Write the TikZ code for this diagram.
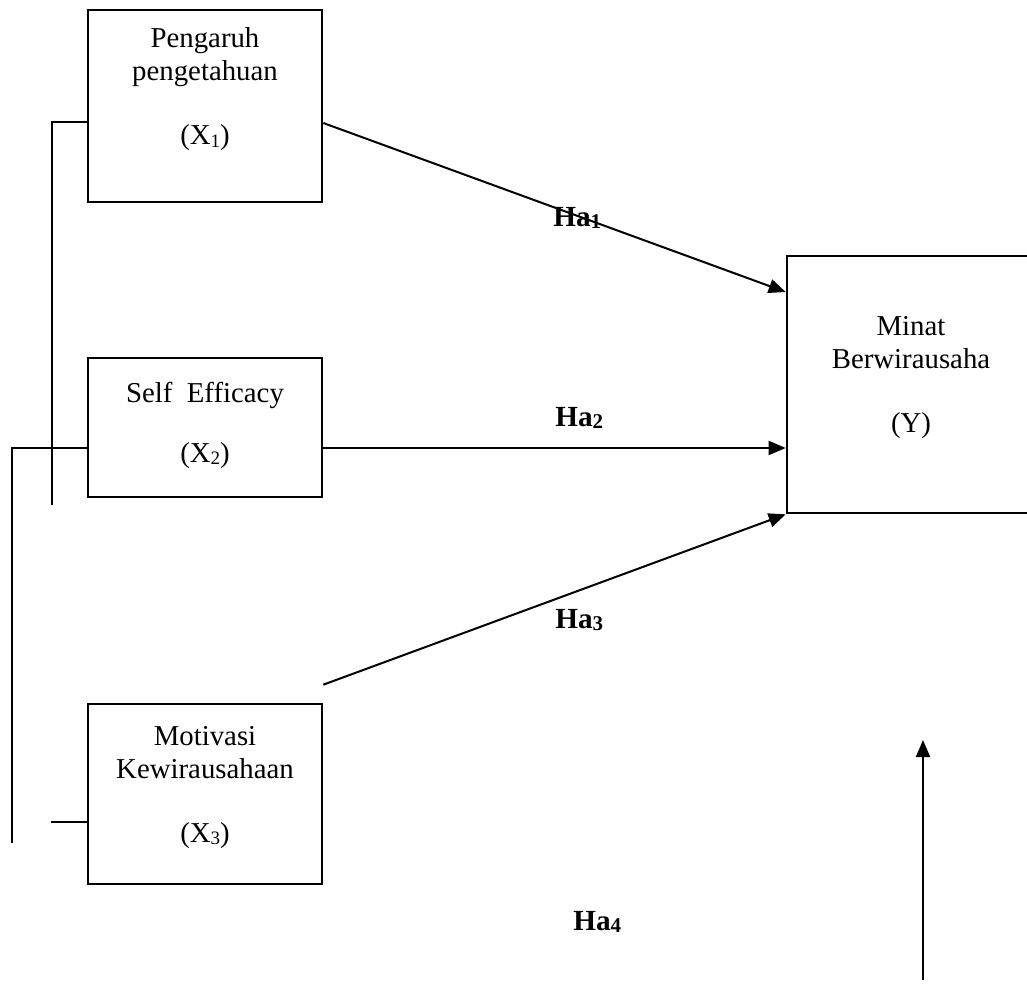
\documentclass[tikz,border=0pt]{standalone}
\usepackage{fontspec}
\setmainfont{Liberation Serif}
\usetikzlibrary{arrows.meta}
\newcommand{\sbs}[1]{\raisebox{-1.4pt}{\fontsize{9.5}{10}\selectfont #1}}
\newcommand{\hsb}[1]{\raisebox{-1pt}{\fontsize{10.5}{11}\selectfont #1}}
\begin{document}
\begin{tikzpicture}[x=0.5pt,y=-0.5pt,
  box/.style={draw,line width=1.3pt,inner sep=0pt},
  txt/.style={anchor=base,inner sep=0pt,font=\fontsize{14.4}{16}\selectfont},
  hlab/.style={anchor=base west,inner sep=0pt,font=\fontsize{14.6}{17}\selectfont\bfseries},
  conn/.style={line width=1pt},
  arr/.style={line width=1pt,-{Triangle[length=8.5pt,width=7pt]}}]
\useasboundingbox (0,0) rectangle (1027,1000);
\clip (0,0) rectangle (1027,1000);
% boxes
\node[box,minimum width=117pt,minimum height=96pt] (x1) at (205,106) {};
\node[box,minimum width=117pt,minimum height=69.5pt] (x2) at (205,427.5) {};
\node[box,minimum width=117pt,minimum height=90pt] (x3) at (205,794) {};
\node[box,minimum width=124pt,minimum height=128.5pt] (y) at (911,384.5) {};
% box texts
\node[txt] (x1a) at (205,48) {Pengaruh};
\node[txt] (x1b) at (205,81) {pengetahuan};
\node[txt] (x1c) at (205,145) {(X\sbs{1})};
\node[txt] (x2a) at (205,402) {Self\ \ Efficacy};
\node[txt] (x2c) at (205,462) {(X\sbs{2})};
\node[txt] (x3a) at (205,745) {Motivasi};
\node[txt] (x3b) at (205,778) {Kewirausahaan};
\node[txt] (x3c) at (205,842) {(X\sbs{3})};
\node[txt] (ya) at (911,335) {Minat};
\node[txt] (yb) at (911,368) {Berwirausaha};
\node[txt] (yc) at (911,432) {(Y)};
% hypothesis labels
\node[hlab] (h1) at (553,227) {Ha\hsb{1}};
\node[hlab] (h2) at (555,426) {Ha\hsb{2}};
\node[hlab] (h3) at (555,628) {Ha\hsb{3}};
\node[hlab] (h4) at (573,930) {Ha\hsb{4}};
% arrows
\draw[arr] ([yshift=-8.5pt]x1.east) -- ([yshift=46.25pt]y.west);
\draw[arr] ([yshift=-10.25pt]x2.east) -- ([yshift=-31.75pt]y.west);
\draw[arr] ([yshift=9pt]x3.north east) -- (y.south west);
\coordinate (v4s) at (923,980);
\coordinate (v4e) at (923,740);
\draw[arr] (v4s) -- (v4e);
% left lines
\coordinate (l1) at (52,505);
\coordinate (l2) at (12,843);
\draw[conn] ([yshift=-8pt]x1.west) -| (l1);
\draw[conn] ([yshift=-10.25pt]x2.west) -| (l2);
\draw[conn] ([yshift=-14pt]x3.west) -- +(-36,0);
\end{tikzpicture}
\end{document}
